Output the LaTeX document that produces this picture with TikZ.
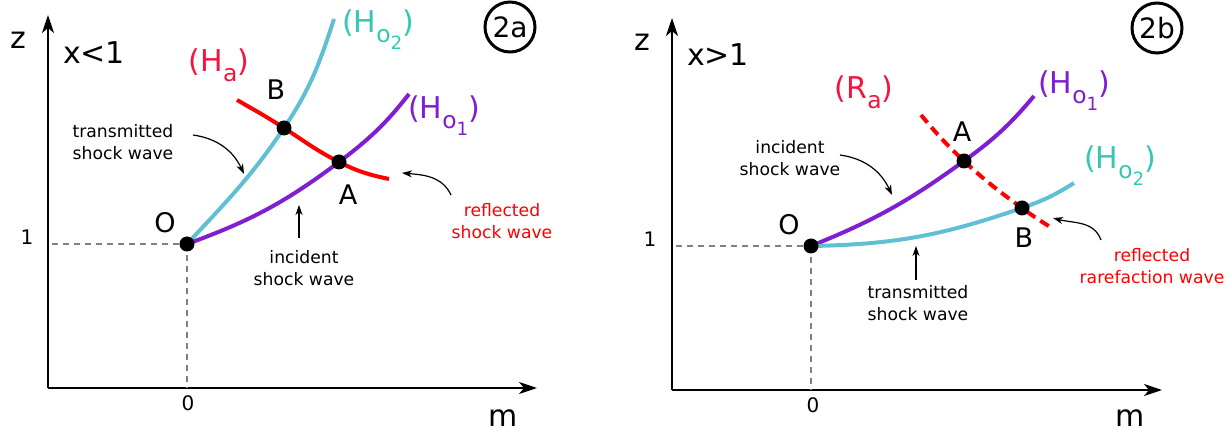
\documentclass[tikz,border=0pt]{standalone}
\usepackage{fontspec}
\setmainfont{DejaVu Sans}
\usetikzlibrary{arrows.meta}

\definecolor{waveCyan}{RGB}{95,192,212}
\definecolor{labelTeal}{RGB}{52,200,180}
\definecolor{wavePurple}{RGB}{128,30,210}
\definecolor{waveRed}{RGB}{255,0,0}
\definecolor{labelRed}{RGB}{245,20,60}

% lowered subscript, as in the drawing
\newcommand{\lowsub}[1]{\raisebox{-0.32em}{\scalebox{0.78}{#1}}}

\begin{document}
\begin{tikzpicture}[x=0.5pt, y=0.5pt,
    axis/.style={line width=1pt, -{Stealth[length=9pt, width=6pt, inset=2.5pt]}},
    guide/.style={gray, line width=0.8pt, dash pattern=on 3pt off 2.5pt},
    wave/.style={line width=2pt},
    dot/.style={circle, fill=black, inner sep=0pt, minimum size=7.5pt},
    pointer/.style={line width=0.6pt, -{Stealth[length=5pt, width=3.5pt, inset=1.5pt]}},
    note/.style={font=\fontsize{8.6}{11}\selectfont, align=center},
    big/.style={font=\fontsize{15}{17}\selectfont},
    pt/.style={font=\fontsize{13.5}{15}\selectfont},
    tick/.style={font=\fontsize{10}{12}\selectfont},
    tag/.style={circle, draw, line width=1.5pt, inner sep=0pt, minimum size=25pt,
                font=\fontsize{14}{16}\selectfont}]
    \useasboundingbox (0,0) rectangle (1232,-432);

    %%% panel 2a
    \coordinate (cornerA) at (48,-388);
    \coordinate (Oa) at (187,-244);
    \coordinate (Ba) at (284,-128);
    \coordinate (Aa) at (339,-162);

    % axes and guides
    \draw[axis] (cornerA) -- (537,-388);
    \draw[axis] (cornerA) -- (48,-15);
    \draw[guide] (52,-244) -- (Oa);
    \draw[guide] (Oa) -- (187,-388);

    % waves
    \draw[wave, waveCyan] (Oa) to[out=47, in=236] (Ba) to[out=56, in=252] (334,-19);
    \draw[wave, wavePurple] (Oa) to[out=20, in=217] (Aa) to[out=37, in=232] (409,-94);
    \draw[wave, waveRed] (237,-100) to[out=-30, in=147] (Ba) to[out=-33, in=153] (Aa)
        to[out=-27, in=168] (389,-179);

    % points
    \node[dot] (dotOa) at (Oa) {};
    \node[dot] (dotBa) at (Ba) {};
    \node[dot] (dotAa) at (Aa) {};
    \node[pt] (labOa) at (165,-223) {O};
    \node[pt] (labBa) at (276,-90) {B};
    \node[pt] (labAa) at (348,-195) {A};

    % curve names
    \node[big, labelRed] (nameHa) at (219,-65) {(H\lowsub{a})};
    \node[big, labelTeal] (nameHo2a) at (378,-30) {(H\lowsub{o\lowsub{2}})};
    \node[big, wavePurple] (nameHo1a) at (444,-116) {(H\lowsub{o\lowsub{1}})};

    % axis labels
    \node[big] (za) at (18,-40) {z};
    \node[big] (ma) at (503,-418) {m};
    \node[tick] (onea) at (27,-237) {1};
    \node[tick] (zeroa) at (188,-403) {0};
    \node[big] (caseA) at (94,-53) {x<1};
    \node[tag] (tagA) at (510,-27) {2a};

    % notes
    \node[note] (transA) at (123,-142) {transmitted\\shock wave};
    \node[note] (incA) at (304,-268) {incident\\shock wave};
    \node[note, waveRed] (reflA) at (502,-221) {reflected\\shock wave};
    \draw[pointer] (193,-135) to[out=-8, in=115] (244,-174);
    \draw[pointer] (299,-238) -- (299,-205);
    \draw[pointer] (451,-195) to[out=115, in=-5] (402,-173);

    %%% panel 2b
    \coordinate (cornerB) at (672,-390);
    \coordinate (Ob) at (811,-246);
    \coordinate (Ab) at (964,-161);
    \coordinate (Bb) at (1022,-208);

    % axes and guides
    \draw[axis] (cornerB) -- (1162,-390);
    \draw[axis] (cornerB) -- (672,-18);
    \draw[guide] (676,-246) -- (Ob);
    \draw[guide] (Ob) -- (811,-390);

    % waves
    \draw[wave, wavePurple] (Ob) to[out=22, in=216] (Ab) to[out=36, in=230] (1034,-96);
    \draw[wave, waveCyan] (Ob) to[out=1, in=199] (Bb) to[out=19, in=212] (1074,-183);
    \draw[wave, waveRed, dash pattern=on 5pt off 3pt] (921,-115) to[out=-50, in=137] (Ab)
        to[out=-43, in=144] (Bb) to[out=-36, in=149] (1052,-228);

    % points
    \node[dot] (dotOb) at (Ob) {};
    \node[dot] (dotAb) at (Ab) {};
    \node[dot] (dotBb) at (Bb) {};
    \node[pt] (labOb) at (789,-225) {O};
    \node[pt] (labAb) at (962,-132) {A};
    \node[pt] (labBb) at (1024,-238) {B};

    % curve names
    \node[big, labelRed] (nameRa) at (864,-92) {(R\lowsub{a})};
    \node[big, wavePurple] (nameHo1b) at (1074,-91) {(H\lowsub{o\lowsub{1}})};
    \node[big, labelTeal] (nameHo2b) at (1120,-166) {(H\lowsub{o\lowsub{2}})};

    % axis labels
    \node[big] (zb) at (642,-42) {z};
    \node[big] (mb) at (1130,-418) {m};
    \node[tick] (oneb) at (650,-239) {1};
    \node[tick] (zerob) at (813,-405) {0};
    \node[big] (caseB) at (718,-55) {x>1};
    \node[tag] (tagB) at (1157,-28) {2b};

    % notes
    \node[note] (incB) at (790,-158) {incident\\shock wave};
    \node[note] (transB) at (918,-303) {transmitted\\shock wave};
    \node[note, waveRed] (reflB) at (1152,-266) {reflected\\rarefaction wave};
    \draw[pointer] (840,-155) to[out=-8, in=115] (892,-195);
    \draw[pointer] (916,-280) -- (916,-246);
    \draw[pointer] (1101,-240) to[out=110, in=-15] (1053,-218);
\end{tikzpicture}
\end{document}
